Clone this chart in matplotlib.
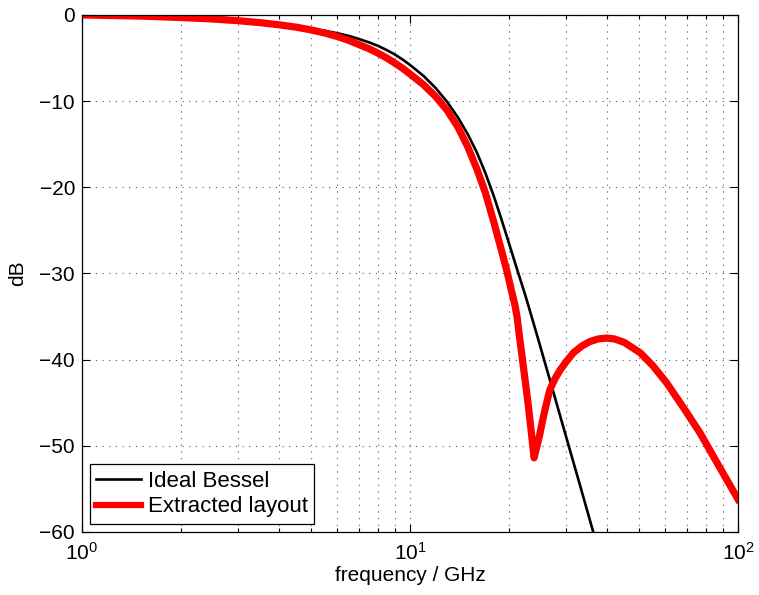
import matplotlib
matplotlib.use("Agg")
import matplotlib.pyplot as plt

plt.rcParams['font.family'] = ['Liberation Sans', 'DejaVu Sans']
plt.rcParams['mathtext.fontset'] = 'custom'
plt.rcParams['mathtext.rm'] = 'Liberation Sans'

# ideal Bessel response (GHz, dB)
bessel_f = [1, 1.5, 2, 2.5, 3, 3.5, 4, 4.5, 5, 5.5,
            6, 6.5, 7, 7.5, 8, 8.5, 9, 9.5, 10, 11,
            12, 13, 14, 15, 16, 17, 18, 19, 20, 21,
            22.5, 24.5, 27, 30, 33, 36.2]
bessel_db = [0, -0.13, -0.3, -0.46, -0.65, -0.86, -1.1, -1.34, -1.6, -1.84,
             -2.12, -2.43, -2.8, -3.18, -3.6, -4.08, -4.6, -5.18, -5.8, -7.08,
             -8.52, -10.12, -11.89, -13.84, -15.97, -18.4, -21.0, -23.7, -26.4, -29.0,
             -32.6, -37.4, -43.0, -49.1, -54.6, -60.0]

# response of the extracted layout (GHz, dB)
layout_f = [1, 1.5, 2, 2.5, 3, 3.5, 4, 4.5, 5, 5.5,
            6, 6.5, 7, 7.5, 8, 8.5, 9, 9.5, 10, 11,
            12, 13, 14, 15, 16, 17, 18, 19, 19.8, 20.3,
            20.9, 21.2, 21.5, 22.2, 22.9, 23.5, 23.9, 24.3, 24.8, 25.3,
            25.8, 26.7, 27.7, 28.7, 30, 31.5, 33.5, 35.4, 37.5, 39.8,
            42, 45, 50.3, 55, 60.6, 68, 76.6, 87, 100]
layout_db = [0, -0.13, -0.3, -0.47, -0.67, -0.9, -1.15, -1.42, -1.74, -2.1,
             -2.5, -2.95, -3.45, -3.92, -4.45, -5.0, -5.6, -6.2, -6.85, -8.1,
             -9.5, -11.1, -13.0, -15.3, -17.9, -20.7, -24.0, -27.3, -29.9, -31.7,
             -33.7, -35.0, -36.9, -41.0, -45.0, -48.8, -51.4, -50.3, -48.9, -47.3,
             -45.8, -43.5, -42.2, -41.2, -40.2, -39.2, -38.4, -37.9, -37.6, -37.5,
             -37.6, -38.0, -39.2, -40.7, -42.7, -45.5, -48.5, -52.2, -56.2]

fig = plt.figure(figsize=(7.59, 5.95), dpi=100)
ax = fig.add_axes([0.108, 0.106, 0.8643, 0.8689])

ax.semilogx(bessel_f, bessel_db, color='black', lw=1.9, label='Ideal Bessel')
ax.semilogx(layout_f, layout_db, color='red', lw=5.2, label='Extracted layout')

ax.set_xlim(1, 100)
ax.set_ylim(-60, 0)
ax.set_yticks([-60, -50, -40, -30, -20, -10, 0])

dots = (0, (1, 5))
ax.grid(True, which='major', linestyle=dots, color='#555555', lw=0.8)
ax.grid(True, which='minor', axis='x', linestyle=dots, color='#555555', lw=0.8)

ax.tick_params(which='both', direction='in', top=True, right=True,
               labelsize=15, width=0.8)
ax.tick_params(which='major', length=6)
ax.tick_params(which='minor', length=3)
ax.tick_params(axis='x', pad=7)
ax.tick_params(axis='y', pad=5)
for s in ax.spines.values():
    s.set_linewidth(0.9)

ax.set_xlabel('frequency / GHz', fontsize=15, labelpad=2)
ax.set_ylabel('dB', fontsize=15, labelpad=9)

leg = ax.legend(loc='lower left', fontsize=16, fancybox=False,
                edgecolor='black', framealpha=1, handlelength=2.0,
                borderaxespad=0.35, borderpad=0.3, labelspacing=0.2,
                handletextpad=0.3)
leg.get_frame().set_linewidth(0.9)
leg.get_lines()[1].set_linewidth(4.5)

fig.savefig('out.png', dpi=100)
